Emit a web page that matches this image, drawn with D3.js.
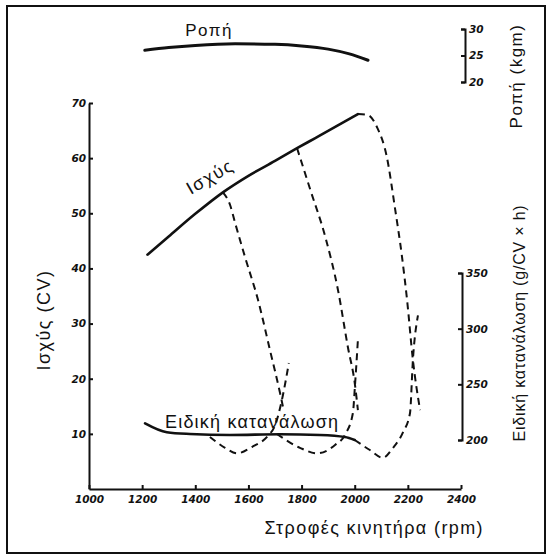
<!DOCTYPE html>
<html>
<head>
<meta charset="utf-8">
<script src="https://cdn.jsdelivr.net/npm/d3@7"></script>
<style>
  body { margin: 0; background: #fff; }
  svg text { fill: #111; font-family: "Liberation Sans", Arial, sans-serif; }
  .tick text { font-family: "DejaVu Sans", sans-serif; font-style: italic; font-weight: bold; font-size: 10.5px; }
</style>
</head>
<body>
<svg></svg>
<script>
const width = 550
const height = 557

// tick values
const rpmTicks = [1000, 1200, 1400, 1600, 1800, 2000, 2200, 2400]
const powerTicks = [10, 20, 30, 40, 50, 60, 70]
const consTicks = [200, 250, 300, 350]
const torqueTicks = [20, 25, 30]

// full load curves [rpm, value]
const torqueFull = [[1210, 26.0], [1300, 26.5], [1400, 26.9], [1550, 27.2], [1700, 27.1], [1800, 26.8], [1900, 26.2], [1980, 25.3], [2050, 24.1]]
const powerFull = [[1220, 42.5], [1300, 45.8], [1400, 49.9], [1504, 53.8], [1600, 56.8], [1700, 59.5], [1783, 61.8], [1850, 63.6], [1950, 66.3], [2012, 68.0]]
const consFull = [[1211, 215], [1293, 207], [1380, 205.4], [1530, 204.5], [1719, 205.2], [1869, 204.5], [1963, 202.7], [2000, 200]]

// governor curves (dashed)
const powerGov1 = [[1504, 53.8], [1531, 51.5], [1549, 48.4], [1587, 42.1], [1636, 34.3], [1681, 25.2], [1719, 17.4], [1730, 14.9]]
const powerGov2 = [[1783, 61.8], [1832, 54.4], [1890, 45.6], [1937, 36.1], [1974, 25.8], [2001, 18.9], [2012, 14.3]]
const powerGov3 = [[2012, 68.0], [2050, 67.8], [2084, 65.6], [2121, 60.2], [2151, 51.1], [2178, 42.1], [2197, 34.3], [2219, 23.4], [2246, 14.3]]
const consGov1 = [[1455, 202.7], [1512, 193], [1557, 188], [1613, 193.7], [1673, 203.6], [1700, 213], [1726, 236], [1752, 269]]
const consGov2 = [[1707, 205.4], [1794, 193], [1858, 188], [1926, 195.5], [1963, 204.5], [1993, 224], [2001, 249], [2012, 290]]
const consGov3 = [[2000, 200], [2057, 191], [2106, 184], [2144, 193], [2182, 207], [2208, 224], [2219, 272], [2238, 312]]

const svg = d3.select('svg')
  .attr('width', width)
  .attr('height', height)

const x = d3.scaleLinear().domain([1000, 2400]).range([89, 461])
const yPower = d3.scaleLinear().domain([0, 70]).range([489, 103])
const yCons = d3.scaleLinear().domain([200, 350]).range([440, 273])
const yTorque = d3.scaleLinear().domain([20, 30]).range([82, 29])
const fmt = d3.format('d')

// frame
svg.append('rect')
  .attr('x', 7).attr('y', 6)
  .attr('width', 538).attr('height', 547)
  .attr('fill', 'none').attr('stroke', '#111').attr('stroke-width', 2)

function styleAxis(g) {
  g.selectAll('path, line').attr('stroke', '#111').attr('stroke-width', 2)
}

svg.append('g')
  .attr('transform', 'translate(0,489)')
  .call(d3.axisBottom(x).tickValues(rpmTicks).tickFormat(fmt).tickSizeInner(-4).tickSizeOuter(0).tickPadding(7))
  .call(styleAxis)

svg.append('g')
  .attr('transform', 'translate(89,0)')
  .call(d3.axisLeft(yPower).tickValues(powerTicks).tickFormat(fmt).tickSizeInner(-4).tickSizeOuter(0).tickPadding(3))
  .call(styleAxis)

svg.append('g')
  .attr('transform', 'translate(462,0)')
  .call(d3.axisRight(yCons).tickValues(consTicks).tickFormat(fmt).tickSizeInner(-4).tickSizeOuter(-4).tickPadding(4))
  .call(styleAxis)

svg.append('g')
  .attr('transform', 'translate(465,0)')
  .call(d3.axisRight(yTorque).tickValues(torqueTicks).tickFormat(fmt).tickSizeInner(-4).tickSizeOuter(-4).tickPadding(4))
  .call(styleAxis)

const curve = d3.curveMonotoneX
const linePower = d3.line().x(d => x(d[0])).y(d => yPower(d[1])).curve(curve)
const lineCons = d3.line().x(d => x(d[0])).y(d => yCons(d[1])).curve(curve)
const lineTorque = d3.line().x(d => x(d[0])).y(d => yTorque(d[1])).curve(curve)

function solid(d, fn, w) {
  svg.append('path').attr('d', fn(d))
    .attr('fill', 'none').attr('stroke', '#111').attr('stroke-width', w)
    .attr('stroke-linecap', 'round')
}
function dashed(d, fn) {
  svg.append('path').attr('d', fn(d))
    .attr('fill', 'none').attr('stroke', '#111').attr('stroke-width', 2)
    .attr('stroke-dasharray', '7,5')
}

solid(torqueFull, lineTorque, 3)
solid(powerFull, linePower, 2.6)
solid(consFull, lineCons, 2.6)
;[powerGov1, powerGov2, powerGov3].forEach(d => dashed(d, linePower))
;[consGov1, consGov2, consGov3].forEach(d => dashed(d, lineCons))

// labels
function label(t, tr, size, spacing, anchor) {
  svg.append('text').attr('transform', tr)
    .attr('text-anchor', anchor || 'middle')
    .attr('font-size', size)
    .attr('letter-spacing', spacing)
    .text(t)
}

label('Ροπή', 'translate(209,36)', 17, 1.5)
label('Ισχύς', 'translate(213,182) rotate(-30)', 18, 1.5)
label('Ειδική κατανάλωση', 'translate(165,428)', 18, 1.2, 'start')
label('Ισχύς (CV)', 'translate(50,320) rotate(-90)', 18, 1.5)
label('Στροφές κινητήρα (rpm)', 'translate(484,534)', 18, 1.4, 'end')
label('Ροπή (kgm)', 'translate(522,76) rotate(-90)', 17, 1.5)
label('Ειδική κατανάλωση (g/CV × h)', 'translate(525,323) rotate(-90)', 16, 0.8)
</script>
</body>
</html>
